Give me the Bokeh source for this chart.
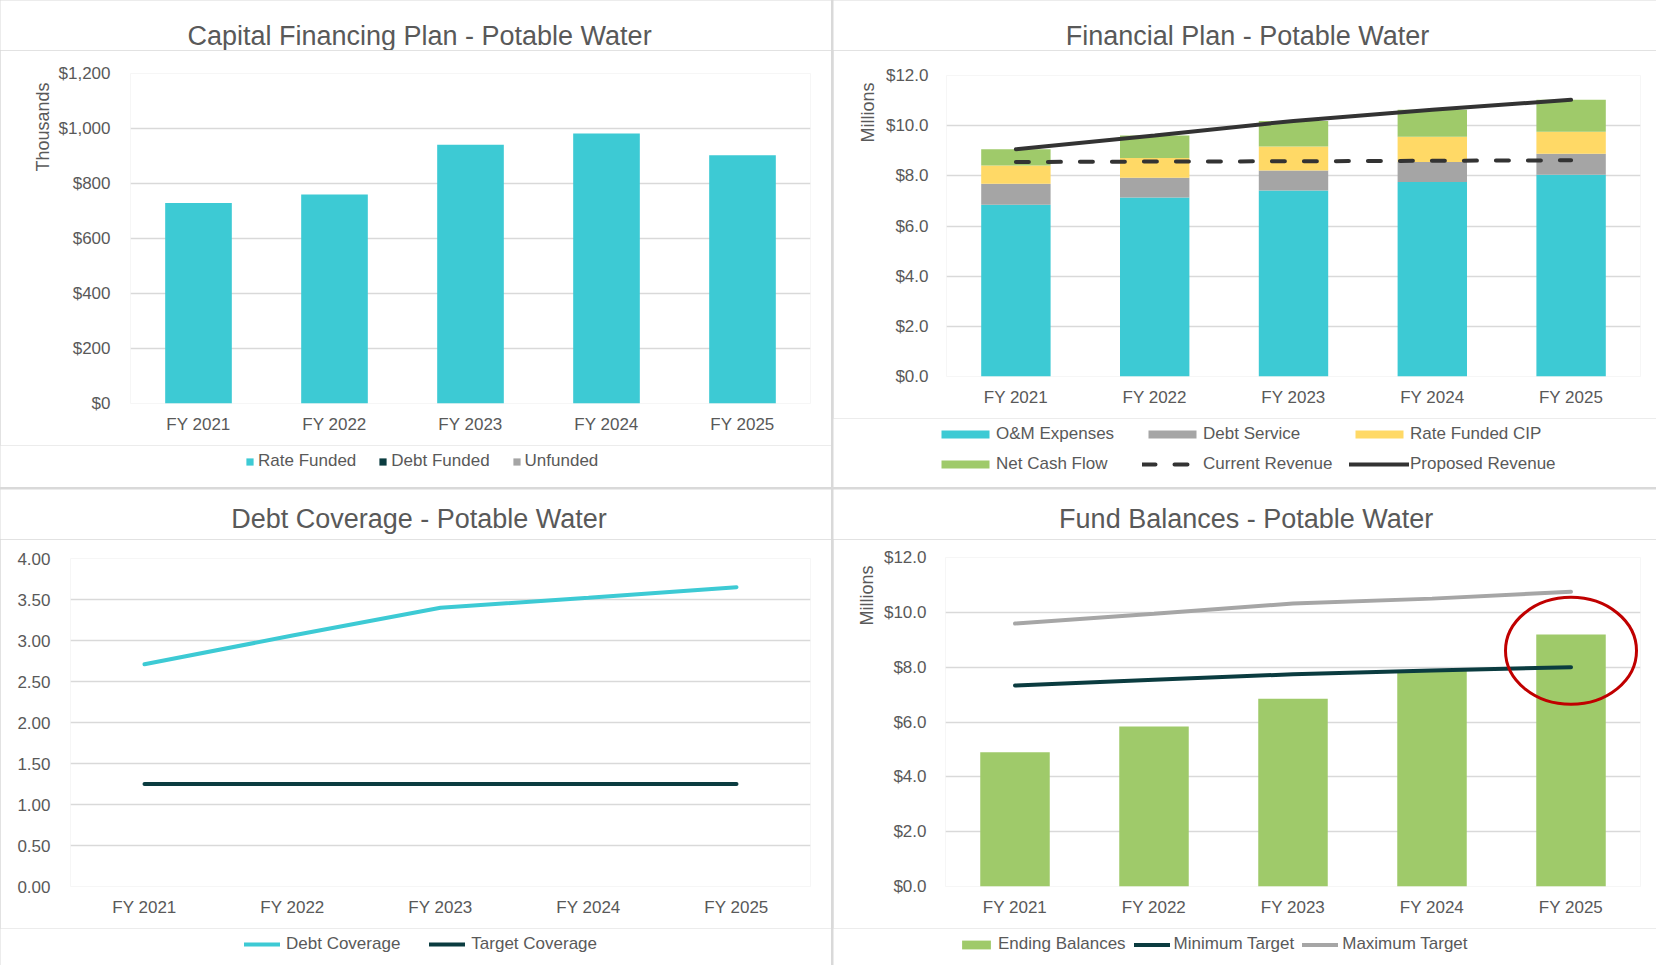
import math
from bokeh.plotting import figure
from bokeh.models import (FactorRange, Range1d, FixedTicker, NumeralTickFormatter,
                          Legend, LegendItem, Title, Label, ColumnDataSource)
from bokeh.layouts import column, row
from bokeh.embed import file_html
from bokeh.resources import INLINE

# ---------------- data ----------------
years = ["FY 2021", "FY 2022", "FY 2023", "FY 2024", "FY 2025"]

# Capital Financing Plan (thousands $)
rate_funded = [729, 760, 941, 982, 903]
debt_funded = [0, 0, 0, 0, 0]
unfunded = [0, 0, 0, 0, 0]

# Financial Plan (millions $)
om_expenses = [6.85, 7.14, 7.42, 7.75, 8.04]
debt_service = [0.83, 0.78, 0.79, 0.80, 0.84]
rate_funded_cip = [0.73, 0.79, 0.96, 1.01, 0.88]
net_cash_flow = [0.65, 0.90, 1.02, 1.07, 1.27]
current_revenue = [8.55, 8.57, 8.58, 8.60, 8.62]
proposed_revenue = [9.06, 9.61, 10.19, 10.63, 11.03]

# Debt Coverage
debt_coverage = [2.71, 3.06, 3.40, 3.52, 3.65]
target_coverage = [1.25, 1.25, 1.25, 1.25, 1.25]

# Fund Balances (millions $)
ending_balances = [4.90, 5.84, 6.85, 7.90, 9.19]
minimum_target = [7.33, 7.54, 7.74, 7.88, 8.00]
maximum_target = [9.59, 9.95, 10.32, 10.50, 10.75]

# ---------------- style ----------------
FONT = "Liberation Sans"
TEXT = "#595959"
GRID = "#D9D9D9"
TEAL = "#3DCAD4"
DARK = "#0B3C40"
GRAY = "#A5A5A5"
YELLOW = "#FFD966"
GREEN = "#9FCA6A"
BLACKLINE = "#333333"
MAXGRAY = "#A6A6A6"
RED = "#C00000"
DASH = "13 19"


def make_fig(fw, fh, left, right, top, bottom, y1, ticks, fmt, ystand):
    p = figure(x_range=FactorRange(factors=years), y_range=Range1d(0, y1),
               frame_width=fw, frame_height=fh, title=None,
               min_border_left=left, min_border_right=right,
               min_border_top=top, min_border_bottom=bottom,
               output_backend="svg", toolbar_location=None)
    p.frame_align = False
    p.outline_line_color = None
    p.background_fill_color = "white"
    p.border_fill_color = "white"
    p.xgrid.grid_line_color = None
    p.ygrid.grid_line_color = GRID
    p.ygrid.grid_line_width = 1.5
    p.yaxis.ticker = FixedTicker(ticks=ticks)
    p.yaxis.formatter = NumeralTickFormatter(format=fmt)
    for ax in (p.xaxis[0], p.yaxis[0]):
        ax.axis_line_color = None
        ax.major_tick_line_color = None
        ax.minor_tick_line_color = None
        ax.major_tick_in = 0
        ax.major_tick_out = 0
        ax.minor_tick_in = 0
        ax.minor_tick_out = 0
        ax.major_label_text_font = FONT
        ax.major_label_text_font_size = "17px"
        ax.major_label_text_color = TEXT
    p.xaxis.major_label_standoff = 11
    p.yaxis.major_label_standoff = ystand
    return p


def add_ylabel(p, text, offset, standoff):
    p.add_layout(Title(text=text, align="right", offset=offset, standoff=standoff,
                       text_font=FONT, text_font_size="18px", text_font_style="normal",
                       text_color=TEXT), "left")


def strip_fig(w, h):
    q = figure(width=w, height=h, x_range=FactorRange(factors=years), y_range=Range1d(0, 1),
               title=None, min_border=0, min_border_left=0, min_border_right=0,
               min_border_top=0, min_border_bottom=0,
               x_axis_location=None, y_axis_location=None,
               output_backend="svg", toolbar_location=None)
    q.frame_align = False
    q.outline_line_color = None
    q.background_fill_color = "white"
    q.border_fill_color = "white"
    q.grid.visible = False
    return q


def title_fig(w, h, text, cx, cy):
    t = strip_fig(w, h)
    t.add_layout(Label(x=cx, y=cy, x_units="screen", y_units="screen", text=text,
                       text_font=FONT, text_font_size="27px", text_color=TEXT,
                       text_align="center", text_baseline="middle"))
    return t


def add_legend(q, items, x, y, gw, gh, standoff, spacing, ncols=None, label_width=20):
    kw = {}
    if ncols:
        kw["ncols"] = ncols
    leg = Legend(items=items, location=(x, y), orientation="horizontal",
                 glyph_width=gw, glyph_height=gh, label_standoff=standoff,
                 spacing=spacing, padding=0, margin=0, label_height=20,
                 label_width=label_width,
                 border_line_color=None, background_fill_alpha=0,
                 label_text_font=FONT, label_text_font_size="17px",
                 label_text_color=TEXT, **kw)
    q.add_layout(leg)


def key_bar(q, vals, color):
    r = q.vbar(x=years, top=vals, width=0.5, color=color, line_color=None)
    r.visible = False
    return r


def key_line(q, vals, color, dash="solid"):
    r = q.line(x=years, y=vals, line_color=color, line_width=4, line_dash=dash, line_cap="round")
    r.visible = False
    return r


# ---------------- Capital Financing Plan ----------------
t1 = title_fig(831, 50, "Capital Financing Plan - Potable Water", 419, 15)
src1 = ColumnDataSource(dict(year=years, rate=rate_funded, debt=debt_funded, unf=unfunded))
p1 = make_fig(680, 330, 130, 21, 23, 42, 1200, [0, 200, 400, 600, 800, 1000, 1200], "$0,0", 20)
p1.vbar_stack(["rate", "debt", "unf"], x="year", width=0.49, source=src1,
              color=[TEAL, DARK, GRAY], line_color=None)
add_ylabel(p1, "Thousands", 9, 5)
q1 = strip_fig(831, 42)
add_legend(q1, [LegendItem(label="Rate Funded", renderers=[key_bar(q1, rate_funded, TEAL)]),
                LegendItem(label="Debt Funded", renderers=[key_bar(q1, debt_funded, DARK)]),
                LegendItem(label="Unfunded", renderers=[key_bar(q1, unfunded, GRAY)])],
           245, 16, 9, 9, 4, 22)

# ---------------- Financial Plan ----------------
t2 = title_fig(823, 50, "Financial Plan - Potable Water", 414, 15)
src2 = ColumnDataSource(dict(year=years, om=om_expenses, ds=debt_service, cip=rate_funded_cip,
                             ncf=net_cash_flow, cur=current_revenue, prop=proposed_revenue))
p2 = make_fig(694, 301, 113, 16, 25, 42, 12, [0, 2, 4, 6, 8, 10, 12], "$0.0", 18)
p2.vbar_stack(["om", "ds", "cip", "ncf"], x="year", width=0.5, source=src2,
              color=[TEAL, GRAY, YELLOW, GREEN], line_color=None)
p2.line("year", "cur", source=src2, line_color=BLACKLINE, line_width=4,
        line_dash=DASH, line_cap="round")
p2.line("year", "prop", source=src2, line_color=BLACKLINE, line_width=4, line_cap="round")
add_ylabel(p2, "Millions", 7, 8.5)
q2 = strip_fig(823, 69)
add_legend(q2, [LegendItem(label="O&M Expenses", renderers=[key_bar(q2, om_expenses, TEAL)]),
                LegendItem(label="Debt Service", renderers=[key_bar(q2, debt_service, GRAY)]),
                LegendItem(label="Rate Funded CIP", renderers=[key_bar(q2, rate_funded_cip, YELLOW)]),
                LegendItem(label="Net Cash Flow", renderers=[key_bar(q2, net_cash_flow, GREEN)]),
                LegendItem(label="Current Revenue", renderers=[key_line(q2, current_revenue, BLACKLINE, DASH)]),
                LegendItem(label="Proposed Revenue", renderers=[key_line(q2, proposed_revenue, BLACKLINE)])],
           102, 13, 60, 10, 1, 10, ncols=3, label_width=136)

# ---------------- Debt Coverage ----------------
t3 = title_fig(831, 50, "Debt Coverage - Potable Water", 418.5, 21)
src3 = ColumnDataSource(dict(year=years, cov=debt_coverage, tgt=target_coverage))
p3 = make_fig(740, 328, 70, 21, 19, 42, 4, [0, 0.5, 1, 1.5, 2, 2.5, 3, 3.5, 4], "0.00", 20)
p3.line("year", "cov", source=src3, line_color=TEAL, line_width=4, line_cap="round")
p3.line("year", "tgt", source=src3, line_color=DARK, line_width=4, line_cap="round")
q3 = strip_fig(831, 37)
add_legend(q3, [LegendItem(label="Debt Coverage", renderers=[key_line(q3, debt_coverage, TEAL)]),
                LegendItem(label="Target Coverage", renderers=[key_line(q3, target_coverage, DARK)])],
           244, 11, 36, 8, 6, 29)

# ---------------- Fund Balances ----------------
t4 = title_fig(823, 50, "Fund Balances - Potable Water", 412.7, 21)
src4 = ColumnDataSource(dict(year=years, bal=ending_balances, mn=minimum_target, mx=maximum_target))
p4 = make_fig(695, 329, 112, 16, 18, 42, 12, [0, 2, 4, 6, 8, 10, 12], "$0.0", 19)
p4.vbar(x="year", top="bal", width=0.5, source=src4, color=GREEN, line_color=None)
p4.line("year", "mx", source=src4, line_color=MAXGRAY, line_width=4, line_cap="round")
p4.line("year", "mn", source=src4, line_color=DARK, line_width=4, line_cap="round")
p4.ellipse(x=[years[-1]], y=[(minimum_target[-1] + ending_balances[-1]) / 2],
           width=131, height=107, width_units="screen", height_units="screen",
           fill_color=None, line_color=RED, line_width=3)
add_ylabel(p4, "Millions", 8, 6.5)
q4 = strip_fig(823, 37)
add_legend(q4, [LegendItem(label="Ending Balances", renderers=[key_bar(q4, ending_balances, GREEN)]),
                LegendItem(label="Minimum Target", renderers=[key_line(q4, minimum_target, DARK)]),
                LegendItem(label="Maximum Target", renderers=[key_line(q4, maximum_target, MAXGRAY)])],
           125, 11, 36, 11, 4, 8)

layout = column(row(column(t1, p1, q1), column(t2, p2, q2), spacing=2),
                row(column(t3, p3, q3), column(t4, p4, q4), spacing=2), spacing=2,
                styles={"background-color": GRID})

open("out.html", "w").write(file_html(layout, INLINE))
